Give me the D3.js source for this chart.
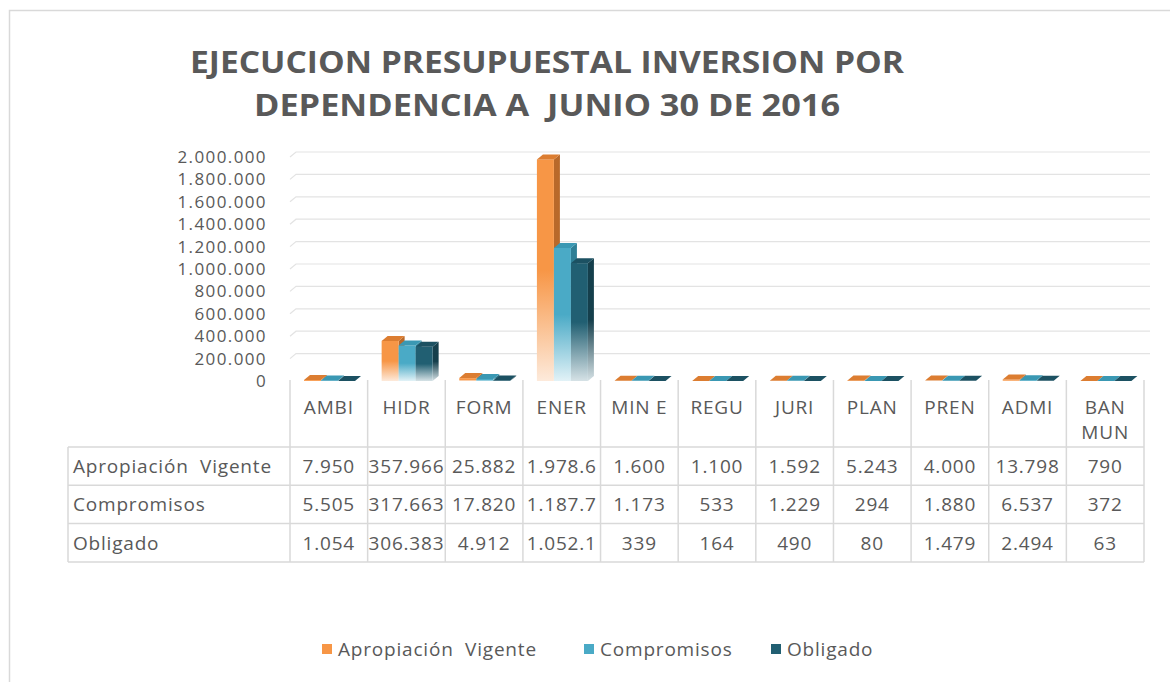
<!DOCTYPE html>
<html>
<head>
<meta charset="utf-8">
<script src="https://cdn.jsdelivr.net/npm/d3@7"></script>
<style>
  html, body { margin: 0; padding: 0; background: #fff; }
  svg { display: block; }
  text { font-family: "Open Sans", "DejaVu Sans", sans-serif; fill: #595959; }
</style>
</head>
<body>
<svg id="chart" width="1170" height="682"></svg>
<script>
// ---------- DATA ----------
const categories = ["AMBI", "HIDR", "FORM", "ENER", "MIN E", "REGU", "JURI", "PLAN", "PREN", "ADMI", "BAN MUN"];
const categoryLabels = [["AMBI"], ["HIDR"], ["FORM"], ["ENER"], ["MIN E"], ["REGU"], ["JURI"], ["PLAN"], ["PREN"], ["ADMI"], ["BAN", "MUN"]];
const seriesNames = ["Apropiación  Vigente", "Compromisos", "Obligado"];
const apropiacionVigente = [7950, 357966, 25882, 1978600, 1600, 1100, 1592, 5243, 4000, 13798, 790];
const compromisos = [5505, 317663, 17820, 1187700, 1173, 533, 1229, 294, 1880, 6537, 372];
const obligado = [1054, 306383, 4912, 1052100, 339, 164, 490, 80, 1479, 2494, 63];
const yTickValues = [0, 200000, 400000, 600000, 800000, 1000000, 1200000, 1400000, 1600000, 1800000, 2000000];
const titleLines = ["EJECUCION PRESUPUESTAL INVERSION POR", "DEPENDENCIA A  JUNIO 30 DE 2016"];

const seriesValues = [apropiacionVigente, compromisos, obligado];
const seriesStyle = [
  { front: "#f79646", pale: "#fdeadb", side: "#b9692a", top: "#dc7d31", legend: "#f79646" },
  { front: "#4aaac6", pale: "#e2f2f7", side: "#2e7f96", top: "#3a98b3", legend: "#4aaac6" },
  { front: "#215f72", pale: "#d6e2e6", side: "#153f4c", top: "#1c5162", legend: "#215f72" }
];

// ---------- SETUP ----------
const svg = d3.select("#chart");
const ink = "#595959";
const grid = "#e3e3e3";
const tableLine = "#d9d9d9";

const fmtLocale = d3.formatLocale({ decimal: ",", thousands: ".", grouping: [3], currency: ["", ""] });
const fmt = fmtLocale.format(",d");

// Frame
svg.append("rect").attr("x", 9.5).attr("y", 10.5).attr("width", 1170).attr("height", 690)
  .attr("fill", "#fff").attr("stroke", "#d9d9d9").attr("stroke-width", 1.5);

// Title
titleLines.forEach((t, i) => {
  svg.append("text")
    .attr("x", 547).attr("y", i === 0 ? 73 : 116)
    .attr("text-anchor", "middle")
    .attr("font-size", 30).attr("font-weight", "bold")
    .attr("textLength", i === 0 ? 714 : 586)
    .attr("lengthAdjust", "spacingAndGlyphs")
    .style("white-space", "pre")
    .text(t);
});

// Scales
const plotLeft = 290, plotRight = 1144;
const x = d3.scaleBand().domain(categories).range([plotLeft, plotRight]).paddingInner(0).paddingOuter(0);
const barW = 17;
const xs = d3.scaleBand().domain(seriesNames).range([14, 14 + 3 * barW]).paddingInner(0);
const y = d3.scaleLinear().domain([0, 2000000]).range([381, 157]);
const dx = 6, dy = 5;

// Gridlines (back wall)
const gridG = svg.append("g");
yTickValues.forEach(v => {
  if (v === 0) return;
  const yy = y(v);
  gridG.append("path")
    .attr("d", `M${plotLeft},${yy} L${plotLeft + dx},${yy - dy} L1150,${yy - dy}`)
    .attr("fill", "none").attr("stroke", grid).attr("stroke-width", 1.2);
});

// Y axis
const yAxis = d3.axisLeft(y).tickValues(yTickValues).tickSize(0).tickPadding(23).tickFormat(d => fmt(d));
const yg = svg.append("g").attr("transform", `translate(${plotLeft},0)`).call(yAxis);
yg.select(".domain").remove();
yg.selectAll("text")
  .attr("font-size", 17).attr("fill", ink)
  .style("font-family", '"Open Sans", sans-serif')
  .style("letter-spacing", "1.4px");

// Gradients
const defs = svg.append("defs");
seriesStyle.forEach((s, i) => {
  const g = defs.append("linearGradient").attr("id", "gf" + i).attr("x1", 0).attr("y1", 0).attr("x2", 0).attr("y2", 1);
  g.append("stop").attr("offset", "0").attr("stop-color", s.front);
  g.append("stop").attr("offset", "0.5").attr("stop-color", s.front);
  g.append("stop").attr("offset", "1").attr("stop-color", s.pale);
  const gs = defs.append("linearGradient").attr("id", "gs" + i).attr("x1", 0).attr("y1", 0).attr("x2", 0).attr("y2", 1);
  gs.append("stop").attr("offset", "0").attr("stop-color", s.side);
  gs.append("stop").attr("offset", "0.5").attr("stop-color", s.side);
  gs.append("stop").attr("offset", "1").attr("stop-color", s.pale);
});

// Bars
const barsG = svg.append("g");
categories.forEach((c, j) => {
  seriesNames.forEach((sn, i) => {
    const v = seriesValues[i][j];
    const x0 = x(c) + xs(sn);
    const y0 = y(0);
    const yt = y(v);
    const h = y0 - yt;
    const g = barsG.append("g");
    if (h > 0.5) {
      g.append("path")
        .attr("d", `M${x0 + barW},${yt} L${x0 + barW + dx},${yt - dy} L${x0 + barW + dx},${y0 - dy} L${x0 + barW},${y0} Z`)
        .attr("fill", `url(#gs${i})`);
      g.append("rect").attr("x", x0).attr("y", yt).attr("width", barW).attr("height", h)
        .attr("fill", `url(#gf${i})`);
    }
    g.append("path")
      .attr("d", `M${x0},${yt} L${x0 + barW},${yt} L${x0 + barW + dx},${yt - dy} L${x0 + dx},${yt - dy} Z`)
      .attr("fill", seriesStyle[i].top);
  });
});

// Data table
const tableTop = 447, rowH = 38.3, labelLeft = 68;
const tG = svg.append("g");
const colEdges = categories.map(c => x(c)).concat([plotRight]);
colEdges.forEach(xx => {
  tG.append("line").attr("x1", xx).attr("x2", xx).attr("y1", 380).attr("y2", tableTop + 3 * rowH)
    .attr("stroke", tableLine).attr("stroke-width", 1.5);
});
tG.append("line").attr("x1", labelLeft).attr("x2", labelLeft).attr("y1", tableTop).attr("y2", tableTop + 3 * rowH)
  .attr("stroke", tableLine).attr("stroke-width", 1.5);
for (let r = 0; r <= 3; r++) {
  tG.append("line").attr("x1", labelLeft).attr("x2", plotRight)
    .attr("y1", tableTop + r * rowH).attr("y2", tableTop + r * rowH)
    .attr("stroke", tableLine).attr("stroke-width", 1.5);
}
categories.forEach((c, j) => {
  const lines = categoryLabels[j];
  lines.forEach((ln, k) => {
    tG.append("text")
      .attr("x", x(c) + x.bandwidth() / 2).attr("y", 414 + k * 25)
      .attr("text-anchor", "middle").attr("font-size", 19)
      .style("letter-spacing", "0.8px")
      .text(ln);
  });
});
seriesNames.forEach((sn, i) => {
  const cy = tableTop + i * rowH + rowH / 2 + 7;
  tG.append("text").attr("x", 73).attr("y", cy).attr("font-size", 19)
    .style("white-space", "pre").style("letter-spacing", "0.8px").text(sn);
  categories.forEach((c, j) => {
    let s = fmt(seriesValues[i][j]);
    if (s.length > 7) s = s.slice(0, 7);
    tG.append("text")
      .attr("x", x(c) + x.bandwidth() / 2).attr("y", cy)
      .attr("text-anchor", "middle").attr("font-size", 19)
      .style("letter-spacing", "0.8px")
      .text(s);
  });
});

// Legend
const legendX = [322, 584, 771];
seriesNames.forEach((sn, i) => {
  const lg = svg.append("g").attr("transform", `translate(${legendX[i]},649)`);
  lg.append("rect").attr("x", 0).attr("y", -5).attr("width", 10).attr("height", 10)
    .attr("fill", seriesStyle[i].legend);
  lg.append("text").attr("x", 16).attr("y", 7).attr("font-size", 19)
    .style("white-space", "pre").style("letter-spacing", "0.8px").text(sn);
});
</script>
</body>
</html>
